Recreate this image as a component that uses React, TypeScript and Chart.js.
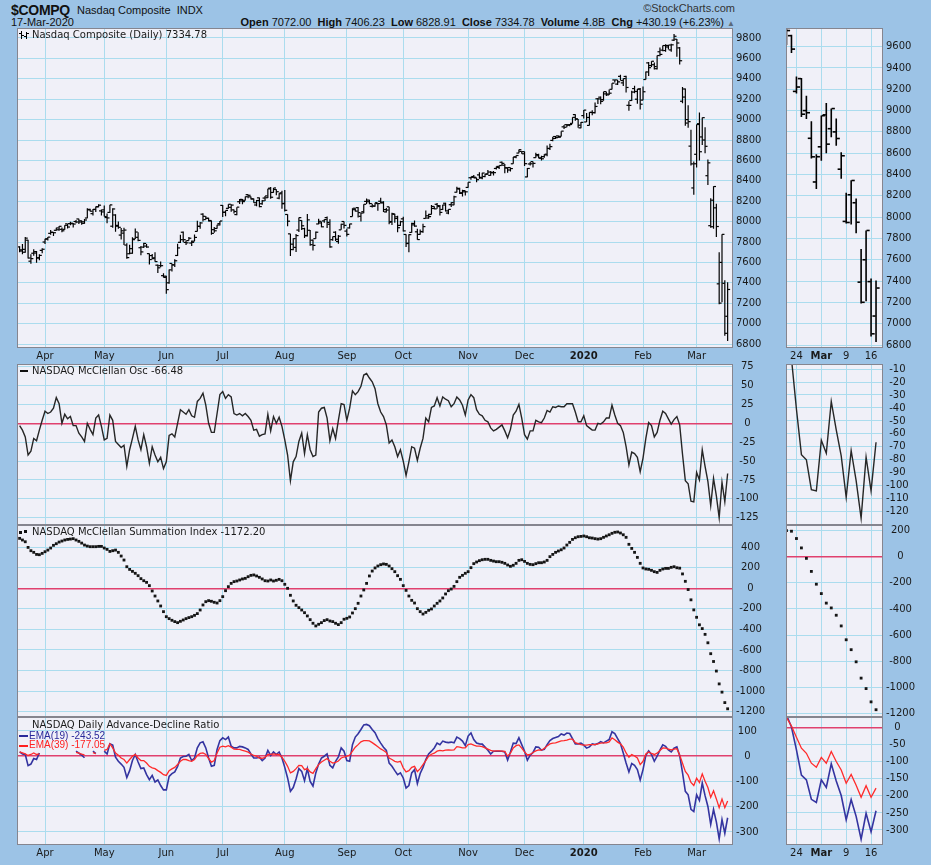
import React, { useEffect, useRef } from 'react';
import { Chart, registerables } from 'chart.js';

Chart.register(...registerables);

// ---------- Nasdaq Composite daily OHLC, 19-Mar-2019 .. 17-Mar-2020 (index 0..251) ----------
const OPEN = [
  7752, 7712, 7700, 7818, 7612, 7690, 7706, 7645, 7718,
  7800, 7832, 7885, 7895, 7915, 7920, 7924, 7924, 7978, 7980, 7979, 8001, 8026, 8008, 7983, 8035, 8115, 8078, 8120, 8145, 8105,
  8115, 8040, 8090, 7955, 8065, 7955, 7868, 7887, 7770, 7685, 7690, 7830, 7846, 7744, 7750, 7760, 7686, 7667, 7645, 7573, 7568, 7470,
  7465, 7400, 7590, 7576, 7668, 7797, 7896, 7796, 7814, 7790, 7808, 7904, 7953, 8073, 8020, 8033, 8011, 7921, 7933, 7980,
  8159, 8092, 8130, 8140, 8115, 8069, 8195, 8218, 8209, 8264, 8243, 8222, 8163, 8233, 8175, 8231, 8234, 8328, 8286, 8315, 8230, 8282,
  8179, 8070, 7880, 7779, 7747, 7917, 8011, 7931, 7861, 7915, 7818, 7833, 7977, 7987, 8007, 8039, 7974, 7823, 7896, 7805, 7919, 8001,
  7907, 7938, 8049, 8131, 8137, 8052, 8097, 8198, 8211, 8150, 8152, 8177, 8200, 8191, 8095, 8145, 8001, 8072, 8047, 7963,
  8027, 7874, 7788, 7894, 7968, 7900, 7875, 7901, 8031, 8035, 8071, 8129, 8170, 8148, 8119, 8180, 8084, 8166, 8164, 8288, 8319, 8283, 8292,
  8335, 8430, 8442, 8428, 8458, 8427, 8442, 8468, 8453, 8478, 8521, 8531, 8582, 8553, 8527, 8530, 8567, 8634, 8672, 8688,
  8686, 8438, 8565, 8588, 8627, 8646, 8624, 8637, 8661, 8717, 8796, 8834, 8840, 8836, 8929, 8950, 8950, 8963, 9049, 9005, 8919,
  9039, 8977, 8943, 9070, 9068, 9204, 9220, 9196, 9252, 9242, 9297, 9389, 9348, 9424, 9360, 9423, 9140, 9187, 9304, 9200, 9300,
  9191, 9393, 9556, 9530, 9538, 9499, 9665, 9681, 9677, 9727, 9683, 9779, 9788, 9703, 9180, 9300, 9000, 8740, 8330,
  8660, 8960, 8830, 8800, 8450, 7960, 8210, 8135, 7390, 7600, 7395, 7072,
];
const HIGH = [
  7758, 7780, 7850, 7822, 7680, 7728, 7712, 7680, 7738,
  7832, 7850, 7918, 7899, 7940, 7956, 7943, 7965, 7980, 7998, 7986, 8016, 8028, 8010, 8026, 8131, 8127, 8123, 8147, 8171, 8118,
  8157, 8080, 8166, 8131, 8073, 8000, 7938, 7940, 7787, 7774, 7847, 7933, 7895, 7762, 7792, 7780, 7687, 7682, 7700, 7580, 7608, 7493,
  7470, 7530, 7590, 7630, 7782, 7871, 7903, 7814, 7850, 7816, 7874, 8009, 7997, 8082, 8055, 8037, 8011, 7947, 7970, 8006,
  8163, 8110, 8170, 8169, 8119, 8142, 8222, 8221, 8245, 8266, 8247, 8227, 8212, 8236, 8211, 8252, 8322, 8339, 8330, 8317, 8278, 8302,
  8311, 8073, 7880, 7838, 7878, 8040, 8013, 7941, 8074, 7917, 7825, 7904, 8028, 8002, 8024, 8050, 8024, 7853, 7905, 7869, 7980, 8001,
  7931, 7978, 8130, 8132, 8144, 8085, 8171, 8227, 8214, 8174, 8186, 8179, 8234, 8199, 8133, 8146, 8087, 8077, 8057, 8008,
  8047, 7875, 7875, 7990, 8012, 7930, 7922, 7980, 8108, 8077, 8163, 8151, 8182, 8163, 8166, 8185, 8120, 8189, 8253, 8342, 8333, 8312, 8305,
  8386, 8441, 8458, 8430, 8485, 8479, 8466, 8506, 8496, 8496, 8541, 8551, 8589, 8566, 8532, 8531, 8633, 8649, 8706, 8689,
  8687, 8525, 8584, 8590, 8674, 8666, 8646, 8660, 8747, 8763, 8832, 8839, 8844, 8887, 8946, 8957, 8956, 9022, 9053, 9007, 8976,
  9093, 9065, 9072, 9092, 9168, 9211, 9226, 9274, 9275, 9294, 9357, 9390, 9390, 9440, 9403, 9430, 9180, 9284, 9332, 9300, 9310,
  9324, 9471, 9564, 9573, 9560, 9628, 9706, 9726, 9738, 9731, 9743, 9838, 9790, 9711, 9320, 9306, 9140, 8900, 8590,
  8953, 9070, 9020, 8925, 8610, 8230, 8347, 8175, 7700, 7875, 7425, 7406,
];
const LOW = [
  7700, 7680, 7695, 7638, 7587, 7665, 7596, 7620, 7690,
  7780, 7815, 7870, 7859, 7910, 7911, 7895, 7920, 7932, 7965, 7943, 7983, 7977, 7970, 7978, 8032, 8100, 8060, 8095, 8140, 8060,
  8049, 7985, 8085, 7940, 7900, 7930, 7825, 7770, 7636, 7680, 7685, 7830, 7807, 7670, 7742, 7743, 7580, 7630, 7606, 7496, 7553, 7451,
  7292, 7390, 7510, 7555, 7664, 7790, 7800, 7771, 7814, 7760, 7808, 7903, 7930, 8000, 8020, 8000, 7870, 7890, 7930, 7962,
  8045, 8052, 8127, 8096, 8079, 8062, 8173, 8171, 8207, 8228, 8216, 8185, 8151, 8142, 8165, 8202, 8232, 8225, 8283, 8258, 8218, 8125,
  8100, 7954, 7662, 7719, 7703, 7899, 7918, 7839, 7853, 7763, 7718, 7833, 7974, 7944, 7989, 7938, 7744, 7813, 7810, 7783, 7919, 7932,
  7854, 7932, 8049, 8098, 8040, 8000, 8082, 8173, 8171, 8139, 8146, 8107, 8180, 8095, 8089, 7975, 7966, 7990, 7895, 7958,
  7904, 7750, 7700, 7890, 7950, 7823, 7870, 7890, 8030, 8029, 8070, 8121, 8126, 8059, 8113, 8100, 8072, 8143, 8161, 8286, 8270, 8247, 8257,
  8331, 8410, 8425, 8385, 8421, 8415, 8435, 8460, 8450, 8453, 8512, 8515, 8548, 8475, 8480, 8492, 8567, 8622, 8670, 8665,
  8546, 8435, 8549, 8530, 8625, 8620, 8598, 8627, 8640, 8703, 8788, 8810, 8821, 8834, 8908, 8925, 8935, 8963, 8988, 8920, 8915,
  9010, 8976, 8943, 9043, 9060, 9152, 9150, 9185, 9231, 9240, 9295, 9363, 9340, 9385, 9330, 9266, 9088, 9183, 9258, 9155, 9100,
  9190, 9393, 9428, 9515, 9492, 9492, 9620, 9671, 9665, 9687, 9665, 9770, 9616, 9540, 9160, 8940, 8920, 8550, 8264,
  8530, 8600, 8750, 8670, 8360, 7940, 7930, 7850, 7190, 7210, 6880, 6829,
];
const CLOSE = [
  7723, 7728, 7838, 7643, 7637, 7692, 7644, 7669, 7729,
  7828, 7848, 7895, 7891, 7938, 7954, 7910, 7964, 7947, 7985, 7976, 7996, 7996, 7998, 8016, 8120, 8102, 8119, 8146, 8161, 8095,
  8050, 8036, 8164, 8124, 7963, 7944, 7910, 7917, 7647, 7735, 7823, 7898, 7816, 7703, 7786, 7751, 7628, 7637, 7608, 7547, 7568, 7453,
  7333, 7527, 7576, 7616, 7742, 7823, 7823, 7792, 7837, 7797, 7845, 7954, 7987, 8052, 8032, 8006, 7885, 7910, 7967, 8006,
  8091, 8110, 8170, 8162, 8099, 8142, 8203, 8196, 8244, 8258, 8223, 8185, 8207, 8147, 8204, 8252, 8321, 8239, 8330, 8293, 8273, 8175,
  8111, 8004, 7726, 7833, 7863, 8039, 7959, 7864, 8017, 7774, 7767, 7896, 8003, 7949, 8020, 7992, 7752, 7853, 7827, 7857, 7974, 7963,
  7875, 7977, 8117, 8103, 8088, 8084, 8170, 8195, 8177, 8153, 8186, 8177, 8183, 8118, 8113, 7994, 8077, 8031, 7940, 7999,
  7909, 7785, 7872, 7982, 7956, 7824, 7903, 7951, 8057, 8049, 8149, 8125, 8157, 8090, 8163, 8105, 8120, 8186, 8243, 8326, 8277, 8304, 8292,
  8386, 8434, 8435, 8411, 8434, 8476, 8464, 8486, 8483, 8480, 8541, 8550, 8571, 8527, 8506, 8520, 8633, 8648, 8705, 8665,
  8568, 8521, 8567, 8571, 8657, 8622, 8616, 8654, 8717, 8735, 8815, 8823, 8827, 8887, 8925, 8945, 8952, 9022, 9007, 8945, 8973,
  9093, 9021, 9071, 9069, 9129, 9203, 9179, 9274, 9251, 9259, 9357, 9389, 9370, 9383, 9402, 9315, 9139, 9270, 9276, 9299, 9151,
  9273, 9467, 9509, 9572, 9520, 9628, 9639, 9726, 9712, 9731, 9733, 9817, 9751, 9577, 9221, 8966, 8980, 8566, 8567,
  8952, 8685, 9019, 8738, 8576, 7950, 8344, 7952, 7201, 7875, 6905, 7334.78,
];

// ---------- NASDAQ McClellan Oscillator ----------
const OSC = [
  -3, -9, -18, -42, -37, -20, -23, -9, 4,
  16, 13, 15, 20, 34, 26, 0, 12, 6, 9, -3, -3, -13, -18, -24, 0, -8, -15, 7, 11, -4,
  -22, -20, 11, 4, -24, -28, -32, -29, -57, -35, -20, -4, -22, -35, -15, -31, -53, -31, -42, -51, -45, -60,
  -51, -16, -14, -18, 0, 18, 15, 12, 18, 10, 8, 29, 33, 40, 24, 0, -12, -12, 13, 38,
  42, 33, 38, 35, 13, 11, 13, 10, 13, 9, 4, -9, -8, -17, -15, -14, 12, -10, 9, 0, 8, -4,
  -22, -42, -76, -51, -44, -24, -13, -40, -15, -35, -44, -42, 15, 20, 21, 7, -23, -7, -20, 4, 26, 25,
  4, 20, 43, 38, 42, 49, 64, 66, 60, 55, 46, 26, 15, 9, -2, -26, -22, -31, -44, -35,
  -50, -69, -51, -31, -33, -49, -33, -20, 7, 2, 21, 23, 34, 23, 35, 32, 30, 22, 26, 35, 31, 24, 11,
  31, 38, 34, 18, 12, 10, 4, 2, -6, -10, -8, -5, -2, -10, -19, -8, 11, 16, 25, 7,
  -15, -21, -10, -10, 4, 2, 1, 7, 17, 15, 22, 21, 23, 22, 22, 26, 26, 26, 15, 2, 2,
  10, -3, -6, -9, -9, 0, -1, 2, 7, 7, 24, 11, 0, -3, -12, -31, -55, -38, -40, -45, -64,
  -46, -20, 1, -3, -18, -12, 4, 16, 13, 6, -1, 5, 9, -2, -41, -76, -80, -103, -104,
  -65, -75, -35, -57, -77, -109, -73, -96, -125, -78, -104, -66.48,
];

// ---------- NASDAQ McClellan Summation Index ----------
const SUMMATION = [
  486, 470, 453, 398, 366, 350, 330, 327, 340,
  356, 372, 392, 418, 434, 450, 460, 470, 476, 479, 483, 470, 457, 440, 421, 411, 405, 405, 405, 408, 408,
  392, 379, 359, 366, 372, 350, 314, 275, 210, 184, 165, 146, 123, 94, 74, 58, 26, -26, -75, -123, -172, -227,
  -276, -295, -311, -324, -334, -321, -308, -295, -285, -276, -263, -246, -211, -162, -130, -120, -126, -136, -143, -120,
  -81, -23, 16, 48, 65, 71, 81, 91, 97, 113, 126, 130, 120, 107, 91, 74, 71, 81, 71, 78, 87, 74,
  39, 0, -68, -123, -165, -188, -211, -237, -269, -305, -340, -366, -350, -334, -314, -305, -318, -324, -340, -353, -334, -301,
  -292, -279, -240, -198, -146, -75, -16, 48, 120, 168, 198, 217, 230, 237, 233, 217, 191, 162, 123, 87,
  26, -20, -75, -117, -143, -198, -227, -250, -234, -214, -201, -172, -146, -123, -94, -55, -23, -7, 19, 65, 107, 126, 146,
  162, 201, 240, 256, 269, 278, 282, 282, 272, 265, 259, 259, 253, 243, 227, 214, 224, 243, 272, 278,
  262, 243, 233, 230, 240, 249, 249, 256, 272, 308, 330, 350, 363, 375, 392, 421, 447, 476, 492, 502, 505,
  509, 502, 492, 489, 483, 479, 483, 496, 509, 521, 535, 545, 548, 538, 521, 496, 428, 388, 350, 301, 243,
  198, 188, 185, 175, 162, 155, 175, 188, 194, 194, 204, 210, 200, 196, 140, 68, -12, -112, -210,
  -282, -355, -392, -448, -530, -636, -712, -805, -930, -1010, -1112, -1172.2,
];

// ---------- NASDAQ Daily Advance-Decline Ratio: EMA(19) and EMA(39) (null = no data) ----------
const EMA19 = [
  17, 9, 7, -37, -31, -9, -13, 13, null,
  null, null, null, null, null, null, null, null, null, null, null, 20, 12, 4, -6, null, null, 20, 10, null, null,
  20, 9, 49, 44, -4, -20, -31, -44, -84, -57, -17, 7, -23, -49, -46, -73, -93, -76, -102, -94, -116, -133,
  -133, -80, -69, -62, -40, -7, -1, 0, 7, -17, -7, 33, 53, 57, 33, -7, -40, -36, 27, 62,
  73, 66, 76, 40, 33, 33, 39, 37, 33, 27, 9, -7, -7, -4, -17, -7, 23, 3, 17, 7, 17, -7,
  -44, -86, -139, -124, -90, -49, -60, -97, -49, -100, -118, -66, -31, -7, 0, 9, -36, -46, -20, -3, 33, 20,
  -17, -20, 46, 76, 89, 106, 124, 126, 121, 106, 93, 70, 52, 36, 23, -27, -40, -57, -73, -66,
  -86, -126, -116, -66, -53, -108, -68, -44, -13, 9, 20, 33, 52, 46, 60, 56, 54, 56, 53, 76, 70, 60, 42,
  80, 92, 66, 52, 49, 48, 36, 24, 9, 20, 20, 20, 20, 17, -15, 17, 52, 50, 73, 46,
  20, -16, 4, 15, 37, 36, 24, 27, 46, 62, 70, 74, 78, 88, 84, 92, 90, 70, 49, 49, 52,
  44, 32, 37, 49, 46, 50, 58, 53, 60, 66, 97, 90, 70, 50, 13, -27, -62, -29, -36, -53, -94,
  -53, 4, 21, 7, -20, 0, 24, 45, 39, 25, 17, 32, 37, 2, -65, -139, -153, -210, -219,
  -153, -175, -106, -156, -199, -270, -211, -260, -327, -251, -305, -243.52,
];
const EMA39 = [
  17, 13, 9, 3, 7, 13, 7, 9, null,
  null, null, null, null, null, null, null, null, null, null, null, 15, 12, 8, 5, null, null, 14, 10, null, null,
  23, 27, 49, 33, 13, 4, -7, -13, -27, -13, 0, 7, -7, -17, -17, -27, -40, -46, -49, -57, -64, -73,
  -76, -57, -50, -44, -33, -20, -13, -13, -17, -20, -13, 3, 11, 13, 7, -9, -23, -17, 13, 36,
  40, 37, 42, 36, 28, 27, 27, 23, 20, 16, 9, 3, 0, -7, -8, -4, 7, 7, 9, 7, 7, -4,
  -20, -40, -66, -60, -49, -36, -37, -53, -49, -62, -68, -49, -33, -23, -16, -9, -20, -27, -24, -19, -7, -3,
  0, 4, 20, 36, 46, 57, 62, 62, 61, 54, 46, 38, 29, 23, 15, -7, -13, -20, -23, -20,
  -46, -62, -57, -44, -40, -61, -49, -33, -17, 0, 8, 12, 20, 23, 21, 24, 25, 24, 25, 38, 36, 33, 33,
  46, 49, 44, 40, 40, 38, 33, 28, 23, 20, 21, 21, 20, 19, 0, 12, 33, 42, 45, 32,
  17, 5, 7, 15, 21, 25, 24, 31, 41, 49, 52, 53, 57, 61, 62, 64, 68, 68, 54, 50, 46,
  44, 44, 46, 46, 46, 49, 52, 53, 53, 57, 73, 65, 56, 49, 36, 13, -4, 7, 1, -7, -33,
  -20, 9, 17, 11, 7, 12, 23, 33, 32, 28, 25, 28, 30, 5, -28, -60, -75, -104, -116,
  -87, -104, -70, -99, -124, -163, -137, -169, -204, -170, -204, -177.05,
];

// ---------- axis ticks / labels ----------
const MONTH_TICKS = [9, 30, 52, 72, 94, 116, 136, 159, 179, 200, 221, 240];
const MONTH_LABELS = ['Apr', 'May', 'Jun', 'Jul', 'Aug', 'Sep', 'Oct', 'Nov', 'Dec', '2020', 'Feb', 'Mar'];
const MONTH_BOLD = [200];
const ZOOM_TICKS = [235, 240, 245, 250];
const ZOOM_LABELS = ['24', 'Mar', '9', '16'];
const ZOOM_BOLD = [240];
const ZOOM_START = 233;

const PRICE_TICKS_L = [6800, 7000, 7200, 7400, 7600, 7800, 8000, 8200, 8400, 8600, 8800, 9000, 9200, 9400, 9600, 9800];
const PRICE_TICKS_R = [6800, 7000, 7200, 7400, 7600, 7800, 8000, 8200, 8400, 8600, 8800, 9000, 9200, 9400, 9600];
const OSC_TICKS_L = [-125, -100, -75, -50, -25, 0, 25, 50, 75];
const OSC_TICKS_R = [-120, -110, -100, -90, -80, -70, -60, -50, -40, -30, -20, -10];
const SUM_TICKS_L = [-1200, -1000, -800, -600, -400, -200, 0, 200, 400];
const SUM_TICKS_R = [-1200, -1000, -800, -600, -400, -200, 0, 200];
const ADR_TICKS_L = [-300, -200, -100, 0, 100];
const ADR_TICKS_R = [-300, -250, -200, -150, -100, -50, 0];

// ---------- styling ----------
const FONT = '"DejaVu Sans", Verdana, sans-serif';
const HFONT = '"Liberation Sans", Arial, sans-serif';
const BG = '#9cc3e6';
const PLOT_BG = '#f0f0f8';
const GRID = '#abdcee';
const ZERO = '#e0406e';
const FRAME = '#85858f';
const TXT = '#1a1a1a';
const PAD = 8;

type Col = { x: number; plotW: number; axisW: number; xMin: number; xMax: number; ticks: number[]; labels: string[]; bold: number[]; from: number; tickOff: number; tickR: number; lw: number };
type Row = { top: number; h: number; axisH: number };

const LEFT: Col = { x: 17, plotW: 716, axisW: 42, xMin: -0.93, xMax: 252.9, ticks: MONTH_TICKS, labels: MONTH_LABELS, bold: MONTH_BOLD, from: 0, tickOff: 0.45, tickR: 1.2, lw: 1.2 };
const RIGHT: Col = { x: 786, plotW: 97, axisW: 48, xMin: 232.9, xMax: 252.4, ticks: ZOOM_TICKS, labels: ZOOM_LABELS, bold: ZOOM_BOLD, from: ZOOM_START, tickOff: 0.4, tickR: 1.6, lw: 1.6 };

const ROW_MAIN: Row = { top: 28, h: 320, axisH: 14 };
const ROW_OSC: Row = { top: 364, h: 161, axisH: 0 };
const ROW_SUM: Row = { top: 525, h: 192, axisH: 0 };
const ROW_ADR: Row = { top: 717, h: 128, axisH: 16 };

const framePlugin = {
  id: 'panelFrame',
  beforeDraw(chart: any) {
    const { ctx, chartArea: a } = chart;
    ctx.save();
    ctx.fillStyle = PLOT_BG;
    ctx.fillRect(a.left, a.top, a.right - a.left, a.bottom - a.top);
    ctx.restore();
  },
  afterDraw(chart: any) {
    const { ctx, chartArea: a } = chart;
    ctx.save();
    ctx.strokeStyle = FRAME;
    ctx.lineWidth = 1;
    ctx.strokeRect(a.left + 0.5, a.top + 0.5, a.right - a.left - 1, a.bottom - a.top - 1);
    ctx.restore();
  },
};

function pts(arr: (number | null)[], from: number) {
  const out: { x: number; y: number | null }[] = [];
  for (let i = from; i < arr.length; i++) out.push({ x: i, y: arr[i] });
  return out;
}

function ohlcSets(col: Col) {
  const seg: { x: number; y: number | null }[] = [];
  const opens: { x: number; y: number }[] = [];
  const closes: { x: number; y: number }[] = [];
  for (let i = col.from; i < CLOSE.length; i++) {
    seg.push({ x: i, y: LOW[i] }, { x: i, y: HIGH[i] }, { x: i, y: null });
    opens.push({ x: i - col.tickOff, y: OPEN[i] });
    closes.push({ x: i + col.tickOff, y: CLOSE[i] });
  }
  const tick = { showLine: false, pointStyle: 'line', pointRadius: col.tickR, pointHoverRadius: col.tickR, pointBorderWidth: col.lw, pointBorderColor: '#000', pointBackgroundColor: '#000', borderColor: '#000' };
  return [
    { data: seg, borderColor: '#000', borderWidth: col.lw, pointRadius: 0, pointHoverRadius: 0, spanGaps: false },
    { data: opens, ...tick },
    { data: closes, ...tick },
  ];
}

function oscSets(col: Col) {
  return [{ data: pts(OSC, col.from), borderColor: '#262626', borderWidth: 1.4, pointRadius: 0, pointHoverRadius: 0 }];
}
function sumSets(col: Col) {
  return [{ data: pts(SUMMATION, col.from), showLine: false, pointStyle: 'rect', pointRadius: 2, pointHoverRadius: 2, pointBorderWidth: 0, pointBackgroundColor: '#151515', borderColor: '#151515' }];
}
function adrSets(col: Col) {
  return [
    { data: pts(EMA39, col.from), borderColor: '#ff2a2a', borderWidth: 1.3, pointRadius: 0, pointHoverRadius: 0, spanGaps: false },
    { data: pts(EMA19, col.from), borderColor: '#3434a0', borderWidth: 1.6, pointRadius: 0, pointHoverRadius: 0, spanGaps: false },
  ];
}

function buildConfig(col: Col, row: Row, datasets: any[], yMin: number, yMax: number, yTicks: number[]) {
  const showX = row.axisH > 0;
  return {
    type: 'line',
    data: { datasets },
    options: {
      animation: false,
      responsive: false,
      maintainAspectRatio: false,
      events: [],
      layout: { autoPadding: false, padding: { top: PAD, bottom: PAD, left: 0, right: 0 } },
      plugins: { legend: { display: false }, tooltip: { enabled: false }, title: { display: false } },
      scales: {
        x: {
          type: 'linear',
          min: col.xMin,
          max: col.xMax,
          afterBuildTicks: (s: any) => { s.ticks = col.ticks.map((v) => ({ value: v })); },
          afterFit: (s: any) => { s.height = row.axisH; s.paddingLeft = 0; s.paddingRight = 0; },
          ticks: {
            display: showX,
            autoSkip: false,
            maxRotation: 0,
            minRotation: 0,
            padding: 2,
            color: TXT,
            font: (c: any) => ({ family: FONT, size: 10, weight: c.tick && col.bold.includes(c.tick.value) ? 'bold' : 'normal' }),
            callback: (v: number) => { const k = col.ticks.indexOf(v); return k < 0 ? '' : col.labels[k]; },
          },
          grid: { color: GRID, lineWidth: 1, drawTicks: false },
          border: { display: false },
        },
        y: {
          type: 'linear',
          position: 'right',
          min: yMin,
          max: yMax,
          afterBuildTicks: (s: any) => { s.ticks = yTicks.map((v) => ({ value: v })); },
          afterFit: (s: any) => { s.width = col.axisW; s.paddingTop = 0; s.paddingBottom = 0; },
          ticks: {
            autoSkip: false,
            padding: 3,
            crossAlign: 'center',
            color: TXT,
            font: { family: FONT, size: 10 },
            callback: (v: number) => String(v),
          },
          grid: {
            color: (c: any) => (c.tick && c.tick.value === 0 ? ZERO : GRID),
            lineWidth: (c: any) => (c.tick && c.tick.value === 0 ? 1.6 : 1),
            drawTicks: false,
          },
          border: { display: false },
        },
      },
    },
    plugins: [framePlugin],
  };
}

type PanelDef = { key: string; col: Col; row: Row; make: () => any };

const PANELS: PanelDef[] = [
  { key: 'mainL', col: LEFT, row: ROW_MAIN, make: () => buildConfig(LEFT, ROW_MAIN, ohlcSets(LEFT), 6761, 9898, PRICE_TICKS_L) },
  { key: 'oscL', col: LEFT, row: ROW_OSC, make: () => buildConfig(LEFT, ROW_OSC, oscSets(LEFT), -134.7, 78.6, OSC_TICKS_L) },
  { key: 'sumL', col: LEFT, row: ROW_SUM, make: () => buildConfig(LEFT, ROW_SUM, sumSets(LEFT), -1252, 616, SUM_TICKS_L) },
  { key: 'adrL', col: LEFT, row: ROW_ADR, make: () => buildConfig(LEFT, ROW_ADR, adrSets(LEFT), -351.5, 155.4, ADR_TICKS_L) },
  { key: 'mainR', col: RIGHT, row: ROW_MAIN, make: () => buildConfig(RIGHT, ROW_MAIN, ohlcSets(RIGHT), 6772, 9775, PRICE_TICKS_R) },
  { key: 'oscR', col: RIGHT, row: ROW_OSC, make: () => buildConfig(RIGHT, ROW_OSC, oscSets(RIGHT), -130.3, -6.1, OSC_TICKS_R) },
  { key: 'sumR', col: RIGHT, row: ROW_SUM, make: () => buildConfig(RIGHT, ROW_SUM, sumSets(RIGHT), -1228, 243.7, SUM_TICKS_R) },
  { key: 'adrR', col: RIGHT, row: ROW_ADR, make: () => buildConfig(RIGHT, ROW_ADR, adrSets(RIGHT), -344, 31.4, ADR_TICKS_R) },
];

function PanelCanvas({ col, row, make }: PanelDef) {
  const ref = useRef<HTMLCanvasElement>(null);
  const w = col.plotW + col.axisW;
  const h = PAD + row.h + row.axisH + PAD;
  useEffect(() => {
    const chart = new Chart(ref.current as HTMLCanvasElement, make());
    return () => chart.destroy();
  }, []);
  return (
    <canvas
      ref={ref}
      width={w}
      height={h}
      style={{ position: 'absolute', left: col.x, top: row.top - PAD, width: w, height: h, display: 'block' }}
    />
  );
}

const abs = (l: number, t: number, extra: React.CSSProperties = {}): React.CSSProperties => ({ position: 'absolute', left: l, top: t, whiteSpace: 'nowrap', ...extra });

function Header() {
  const b: React.CSSProperties = { fontWeight: 'bold' };
  return (
    <>
      <div style={abs(11, 2, { fontFamily: HFONT, fontSize: 14, fontWeight: 'bold', color: '#111', letterSpacing: -0.3 })}>$COMPQ</div>
      <div style={abs(77, 4, { fontFamily: HFONT, fontSize: 11, color: '#111' })}>Nasdaq Composite&nbsp;&nbsp;INDX</div>
      <div style={abs(11, 16, { fontFamily: HFONT, fontSize: 11, color: '#111' })}>17-Mar-2020</div>
      <div style={{ position: 'absolute', right: 931 - 735, top: 2, fontFamily: HFONT, fontSize: 11, color: '#333', whiteSpace: 'nowrap' }}>©StockCharts.com</div>
      <div style={{ position: 'absolute', right: 931 - 735, top: 16, fontFamily: HFONT, fontSize: 11, color: '#111', whiteSpace: 'nowrap' }}>
        <span style={b}>Open</span> 7072.00&nbsp;&nbsp;<span style={b}>High</span> 7406.23&nbsp;&nbsp;<span style={b}>Low</span> 6828.91&nbsp;&nbsp;<span style={b}>Close</span> 7334.78&nbsp;&nbsp;<span style={b}>Volume</span> 4.8B&nbsp;&nbsp;<span style={b}>Chg</span> +430.19 (+6.23%) <span style={{ color: '#5a6a7a', fontSize: 8 }}>▲</span>
      </div>
    </>
  );
}

function Legends() {
  const t: React.CSSProperties = { fontFamily: FONT, fontSize: 10, color: '#1a1a1a', lineHeight: '12px' };
  const small: React.CSSProperties = { fontFamily: HFONT, fontSize: 10, lineHeight: '10px' };
  return (
    <>
      <div style={abs(19, 30, { width: 10, height: 10 })}>
        <div style={{ position: 'absolute', left: 2, top: 1, width: 1, height: 8, background: '#000' }} />
        <div style={{ position: 'absolute', left: 0, top: 3, width: 2, height: 1, background: '#000' }} />
        <div style={{ position: 'absolute', left: 3, top: 5, width: 2, height: 1, background: '#000' }} />
        <div style={{ position: 'absolute', left: 7, top: 2, width: 1, height: 7, background: '#000' }} />
        <div style={{ position: 'absolute', left: 5, top: 6, width: 2, height: 1, background: '#000' }} />
        <div style={{ position: 'absolute', left: 8, top: 3, width: 2, height: 1, background: '#000' }} />
      </div>
      <div style={abs(32, 29, t)}>Nasdaq Composite (Daily) 7334.78</div>

      <div style={abs(20, 370, { width: 8, height: 2, background: '#111' })} />
      <div style={abs(32, 365, t)}>NASDAQ McClellan Osc -66.48</div>

      <div style={abs(19, 531, { width: 3, height: 3, background: '#111' })} />
      <div style={abs(24, 530, { width: 3, height: 3, background: '#111' })} />
      <div style={abs(32, 526, t)}>NASDAQ McClellan Summation Index -1172.20</div>

      <div style={abs(32, 719, t)}>NASDAQ Daily Advance-Decline Ratio</div>
      <div style={abs(19, 735, { width: 9, height: 2, background: '#2a2a9a' })} />
      <div style={abs(29, 731, { ...small, color: '#2a2a9a' })}>EMA(19) -243.52</div>
      <div style={abs(19, 745, { width: 9, height: 2, background: '#ff2020' })} />
      <div style={abs(29, 740, { ...small, color: '#ff2020' })}>EMA(39) -177.05</div>
    </>
  );
}

export default function App() {
  return (
    <div style={{ position: 'absolute', left: 0, top: 0, width: 931, height: 865, background: BG, overflow: 'hidden' }}>
      <Header />
      {PANELS.map((p) => (
        <PanelCanvas key={p.key} {...p} />
      ))}
      <Legends />
    </div>
  );
}
